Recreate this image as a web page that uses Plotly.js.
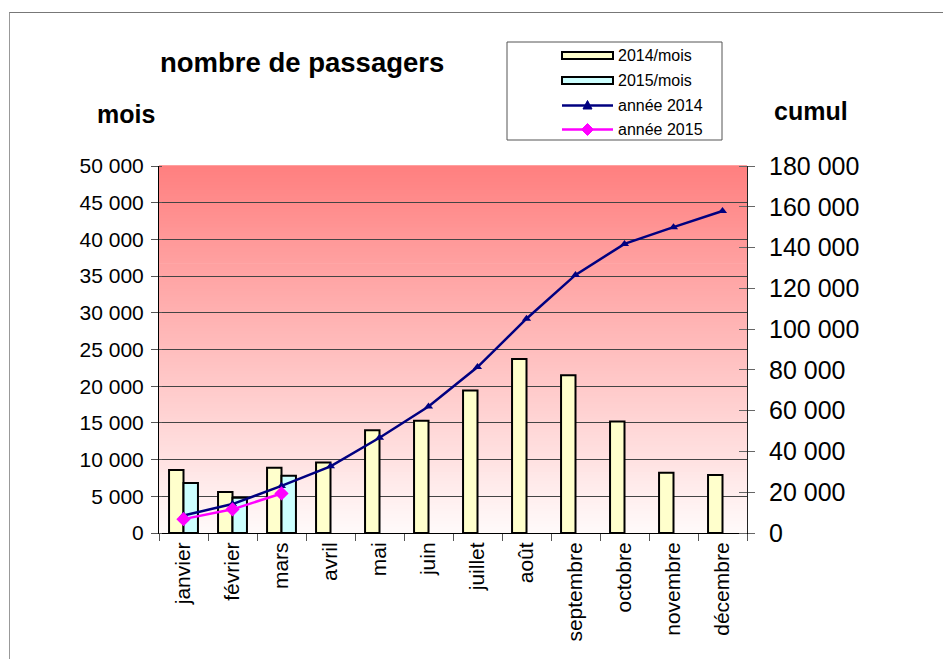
<!DOCTYPE html>
<html>
<head>
<meta charset="utf-8">
<script src="https://cdn.plot.ly/plotly-3.0.1.min.js"></script>
<style>
html,body{margin:0;padding:0;background:#fff;}
#frame{position:absolute;left:9px;top:12px;width:940px;height:660px;border-top:1px solid #777;border-left:1px solid #999;}
#chart{position:absolute;left:0;top:0;width:943px;height:659px;}
</style>
</head>
<body>
<div id="frame"></div>
<div id="chart"></div>
<script>
const months = ['janvier','février','mars','avril','mai','juin','juillet','août','septembre','octobre','novembre','décembre'];
const mois2014 = [8600, 5600, 8900, 9600, 14000, 15300, 19400, 23700, 21500, 15200, 8200, 7900];
const mois2015 = [6800, 4800, 7800, null, null, null, null, null, null, null, null, null];
const cumul2014 = [8600, 14200, 23100, 32700, 46700, 62000, 81400, 105100, 126600, 141800, 150000, 157900];
const cumul2015 = [6800, 11600, 19400, null, null, null, null, null, null, null, null, null];
const leftTicks = [0,5000,10000,15000,20000,25000,30000,35000,40000,45000,50000];
const rightTicks = [0,20000,40000,60000,80000,100000,120000,140000,160000,180000];
const legendNames = ['2014/mois','2015/mois','année 2014','année 2015'];

const FONT = 'Arial, "Liberation Sans", sans-serif';
const C14 = '#FFFFCC', C15 = '#CCFFFF', NAVY = '#000080', MAG = '#FF00FF';

// plot area in pixels
const L = 159, R = 747, T = 166, B = 533;
const W = R - L, H = B - T;
const px = x => (x - L) / W;
const py = y => (B - y) / H;

const traces = [
  {type:'bar', name:legendNames[0], x:months, y:mois2014,
   marker:{color:C14, line:{color:'#000', width:2}}},
  {type:'bar', name:legendNames[1], x:months, y:mois2015,
   marker:{color:C15, line:{color:'#000', width:2}}},
  {type:'scatter', mode:'lines+markers', name:legendNames[2], x:months, y:cumul2014, yaxis:'y2',
   line:{color:NAVY, width:2.5}, marker:{symbol:'triangle-up', size:8, color:NAVY}},
  {type:'scatter', mode:'lines+markers', name:legendNames[3], x:months, y:cumul2015, yaxis:'y2',
   line:{color:MAG, width:2.5}, marker:{symbol:'diamond', size:11, color:MAG}}
];

// gradient background stripes (style only)
const shapes = [];
const N = 120;
for (let i = 0; i < N; i++) {
  const t = i / (N - 1); // 0 bottom -> 1 top
  const g = Math.round(250 - (250 - 128) * t);
  shapes.push({type:'rect', xref:'paper', yref:'paper', x0:0, x1:1,
    y0:i/N, y1:(i+1)/N + 0.002, fillcolor:`rgb(255,${g},${g})`, line:{width:0}, layer:'below'});
}
// legend box
shapes.push({type:'rect', xref:'paper', yref:'paper',
  x0:px(507), x1:px(722), y0:py(140), y1:py(42),
  line:{color:'#555', width:1}, fillcolor:'rgba(0,0,0,0)'});
// legend symbols
const rows = [55.5, 80.5, 105.5, 129.5];
const sx0 = 562, sx1 = 613, sxc = 587.5;
shapes.push({type:'rect', xref:'paper', yref:'paper', x0:px(sx0), x1:px(sx1), y0:py(rows[0]+3.5), y1:py(rows[0]-3.5),
  fillcolor:C14, line:{color:'#000', width:2}});
shapes.push({type:'rect', xref:'paper', yref:'paper', x0:px(sx0), x1:px(sx1), y0:py(rows[1]+3.5), y1:py(rows[1]-3.5),
  fillcolor:C15, line:{color:'#000', width:2}});
shapes.push({type:'line', xref:'paper', yref:'paper', x0:px(sx0), x1:px(sx1), y0:py(rows[2]), y1:py(rows[2]),
  line:{color:NAVY, width:2.5}});
shapes.push({type:'path', xref:'paper', yref:'paper',
  path:`M${px(sxc-4.5)},${py(rows[2]+3.5)} L${px(sxc+4.5)},${py(rows[2]+3.5)} L${px(sxc)},${py(rows[2]-5)} Z`,
  fillcolor:NAVY, line:{color:NAVY, width:1}});
shapes.push({type:'line', xref:'paper', yref:'paper', x0:px(sx0), x1:px(sx1), y0:py(rows[3]), y1:py(rows[3]),
  line:{color:MAG, width:2.5}});
shapes.push({type:'path', xref:'paper', yref:'paper',
  path:`M${px(sxc-6)},${py(rows[3])} L${px(sxc)},${py(rows[3]-6)} L${px(sxc+6)},${py(rows[3])} L${px(sxc)},${py(rows[3]+6)} Z`,
  fillcolor:MAG, line:{color:MAG, width:1}});

const annotations = [
  {text:'<b>nombre de passagers</b>', xref:'paper', yref:'paper', x:px(302), y:py(62),
   showarrow:false, font:{size:27.5, family:FONT}, xanchor:'center', yanchor:'middle'},
  {text:'<b>mois</b>', xref:'paper', yref:'paper', x:px(126), y:py(114),
   showarrow:false, font:{size:25, family:FONT}, xanchor:'center', yanchor:'middle'},
  {text:'<b>cumul</b>', xref:'paper', yref:'paper', x:px(811), y:py(111),
   showarrow:false, font:{size:25, family:FONT}, xanchor:'center', yanchor:'middle'}
];
legendNames.forEach((n, i) => annotations.push({
  text:n, xref:'paper', yref:'paper', x:px(616), y:py(rows[i]), showarrow:false,
  xanchor:'left', yanchor:'middle', font:{size:16, family:FONT}
}));

const layout = {
  width:943, height:659,
  margin:{l:L, r:943-R, t:T, b:659-B},
  paper_bgcolor:'rgba(0,0,0,0)', plot_bgcolor:'rgba(0,0,0,0)',
  separators:', ',
  font:{family:FONT, color:'#000'},
  barmode:'group', bargap:0.41, bargroupgap:0,
  showlegend:false,
  xaxis:{type:'category', range:[-0.5,11.5], tickangle:-90, tickfont:{size:21},
    ticks:'outside', ticklen:7, tickson:'boundaries', tickcolor:'#555',
    showline:true, linecolor:'#000', linewidth:1, showgrid:false, zeroline:false},
  yaxis:{range:[0,50000], tickvals:leftTicks, tickformat:',d', tickfont:{size:21},
    ticks:'outside', ticklen:7, tickcolor:'#555', ticklabelstandoff:3,
    minor:{tickvals:leftTicks, ticks:'inside', ticklen:3, tickcolor:'#555', showgrid:false},
    showline:true, linecolor:'#000', linewidth:1,
    showgrid:true, gridcolor:'#444', gridwidth:1, zeroline:false},
  yaxis2:{overlaying:'y', side:'right', range:[0,180000], tickvals:rightTicks, tickformat:',d',
    tickfont:{size:25}, ticks:'outside', ticklen:7, tickcolor:'#666', ticklabelstandoff:9,
    minor:{tickvals:rightTicks, ticks:'inside', ticklen:8, tickcolor:'#666', showgrid:false},
    showline:true, linecolor:'#222', linewidth:1, showgrid:false, zeroline:false},
  shapes:shapes,
  annotations:annotations
};

Plotly.newPlot('chart', traces, layout, {displayModeBar:false, staticPlot:true});
</script>
</body>
</html>
